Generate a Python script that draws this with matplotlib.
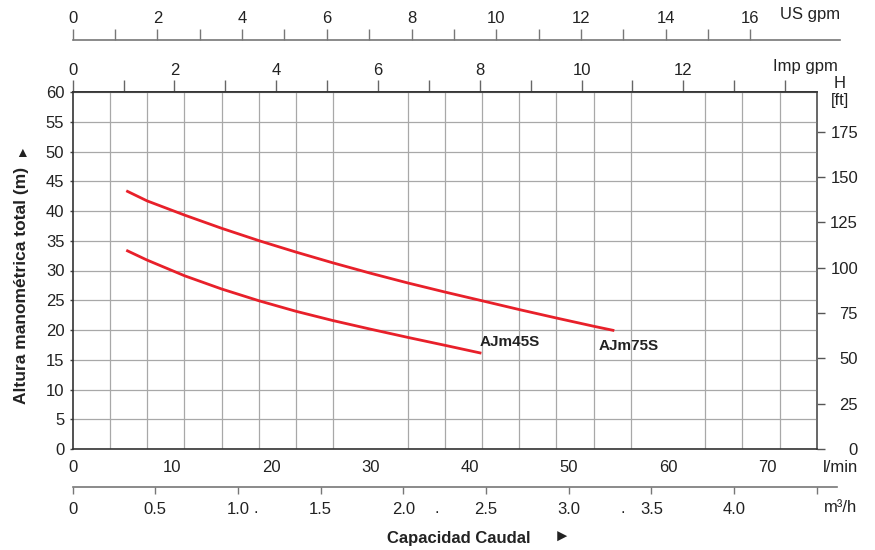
import matplotlib.pyplot as plt
from matplotlib.lines import Line2D
import numpy as np

plt.rcParams['font.family'] = ['Liberation Sans', 'DejaVu Sans']

# pump curves, flow in l/min, head in m
flow_75 = [5.4, 7.5, 11.3, 15.0, 18.8, 22.5, 26.2, 30.0, 33.8, 37.6, 41.3, 45.1, 48.8, 52.6, 54.6]
head_75 = [43.4, 41.7, 39.3, 37.1, 35.0, 33.1, 31.3, 29.55, 27.9, 26.35, 24.9, 23.4, 22.0, 20.6, 19.9]
flow_45 = [5.4, 7.5, 11.3, 15.0, 18.8, 22.5, 26.2, 30.0, 33.8, 37.6, 41.2]
head_45 = [33.4, 31.75, 29.1, 26.9, 24.9, 23.15, 21.6, 20.15, 18.75, 17.4, 16.1]

lmin_ticks = [0, 10, 20, 30, 40, 50, 60, 70]
head_ticks = list(range(0, 61, 5))
ft_ticks = list(range(0, 176, 25))
m3h_ticks = [0, 0.5, 1.0, 1.5, 2.0, 2.5, 3.0, 3.5, 4.0, 4.5]
m3h_labels = ['0', '0.5', '1.0', '1.5', '2.0', '2.5', '3.0', '3.5', '4.0', '']
us_ticks = list(range(17))
us_labels = [str(v) if v % 2 == 0 else '' for v in us_ticks]
imp_ticks = list(range(15))
imp_labels = [str(v) if v % 2 == 0 and v <= 12 else '' for v in imp_ticks]

LMIN_PER_US = 4.27
LMIN_PER_IMP = 5.13
M_TO_FT = 3.28084

W, H = 875, 550
fig = plt.figure(figsize=(8.75, 5.5), dpi=100)
x0, x1, y0, y1 = 72.7, 816.7, 92, 449
ax = fig.add_axes([x0 / W, 1 - y1 / H, (x1 - x0) / W, (y1 - y0) / H])


def fx(px):
    return px / W


def fy(py):
    return 1 - py / H


ax.plot(flow_75, head_75, color='#e8202a', lw=2.0, solid_capstyle='butt', solid_joinstyle='round')
ax.plot(flow_45, head_45, color='#e8202a', lw=2.0, solid_capstyle='butt', solid_joinstyle='round')
ax.text(41.0, 18.0, 'AJm45S', fontsize=11, fontweight='bold', va='center', color='#222')
ax.text(53.0, 17.3, 'AJm75S', fontsize=11, fontweight='bold', va='center', color='#222')

ax.set_xlim(0, 75)
ax.set_ylim(0, 60)
ax.set_xticks(lmin_ticks)
ax.set_xticks(np.arange(0, 75.01, 3.75), minor=True)
ax.set_yticks(head_ticks)
ax.grid(which='minor', axis='x', color='#a8a8a8', lw=0.9)
ax.grid(which='major', axis='y', color='#a8a8a8', lw=0.9)
ax.set_axisbelow(True)
ax.tick_params(axis='x', which='both', length=0, pad=8, labelsize=12, labelcolor='#222')
ax.tick_params(axis='y', length=2.5, width=1, color='#444', pad=3.5, labelsize=12, labelcolor='#222')
for s in ['left', 'bottom', 'top']:
    ax.spines[s].set_color('#333')
    ax.spines[s].set_linewidth(1.2)
ax.spines['right'].set_color('#666')
ax.spines['right'].set_linewidth(1.2)

# Imp gpm on the top frame
imp = ax.secondary_xaxis('top', functions=(lambda q: q / LMIN_PER_IMP, lambda g: g * LMIN_PER_IMP))
imp.set_xticks(imp_ticks, labels=imp_labels)
imp.tick_params(length=8.4, width=1, color='#666', pad=2, labelsize=12, labelcolor='#222')
imp.spines['top'].set_color('#333')
imp.spines['top'].set_linewidth(1.2)

# US gpm, separate scale above
us = ax.secondary_xaxis((y1 - 40.3) / (y1 - y0),
                        functions=(lambda q: q / LMIN_PER_US, lambda g: g * LMIN_PER_US))
us.set_xticks(us_ticks, labels=us_labels)
us.tick_params(length=8, width=1, color='#777', pad=2, labelsize=12, labelcolor='#222')
for s in us.spines.values():
    s.set_visible(False)
fig.add_artist(Line2D([fx(x0), fx(840)], [fy(40.3), fy(40.3)], color='#777', lw=1.2))

# m3/h, separate scale below
m3 = ax.secondary_xaxis((y1 - 486.7) / (y1 - y0),
                        functions=(lambda q: q * 0.06, lambda v: v / 0.06))
m3.set_xticks(m3h_ticks, labels=m3h_labels)
m3.tick_params(length=5.3, width=1, color='#777', pad=5.5, labelsize=12, labelcolor='#222')
for s in m3.spines.values():
    s.set_visible(False)
fig.add_artist(Line2D([fx(x0), fx(837)], [fy(486.7), fy(486.7)], color='#777', lw=1.2))

# feet on the right
ft = ax.secondary_yaxis('right', functions=(lambda m: m * M_TO_FT, lambda f: f / M_TO_FT))
ft.set_yticks(ft_ticks)
ft.tick_params(length=5.8, width=1, color='#555', pad=24, labelsize=12, labelcolor='#222')
for t in ft.get_yticklabels():
    t.set_ha('right')
ft.spines['right'].set_color('#666')
ft.spines['right'].set_linewidth(1.2)

# unit labels
fig.text(fx(810), fy(15), 'US gpm', ha='center', va='center', fontsize=12, color='#222')
fig.text(fx(805), fy(67), 'Imp gpm', ha='center', va='center', fontsize=12, color='#222')
fig.text(fx(840), fy(83), 'H', ha='center', va='center', fontsize=12, color='#222')
fig.text(fx(840), fy(101), '[ft]', ha='center', va='center', fontsize=12, color='#222')
fig.text(fx(841), fy(468), 'l/min', ha='center', va='center', fontsize=12, color='#222')
fig.text(fx(841), fy(508), 'm³/h', ha='center', va='center', fontsize=12, color='#222')
for dx in [256, 437, 623]:
    fig.text(fx(dx), fy(513), '.', ha='center', va='baseline', fontsize=12, color='#222')

fig.text(fx(387), fy(538), 'Capacidad Caudal', ha='left', va='center', fontsize=12,
         fontweight='bold', color='#222')
fig.text(fx(562), fy(537), '►', ha='center', va='center', fontsize=12, color='#222')
fig.text(fx(22), fy(285), 'Altura manométrica total (m)', ha='center', va='center',
         rotation=90, fontsize=12.5, fontweight='bold', color='#222')
fig.text(fx(22), fy(153), '▲', ha='center', va='center', fontsize=10, color='#222')

fig.savefig('out.png', dpi=100, facecolor='white')
